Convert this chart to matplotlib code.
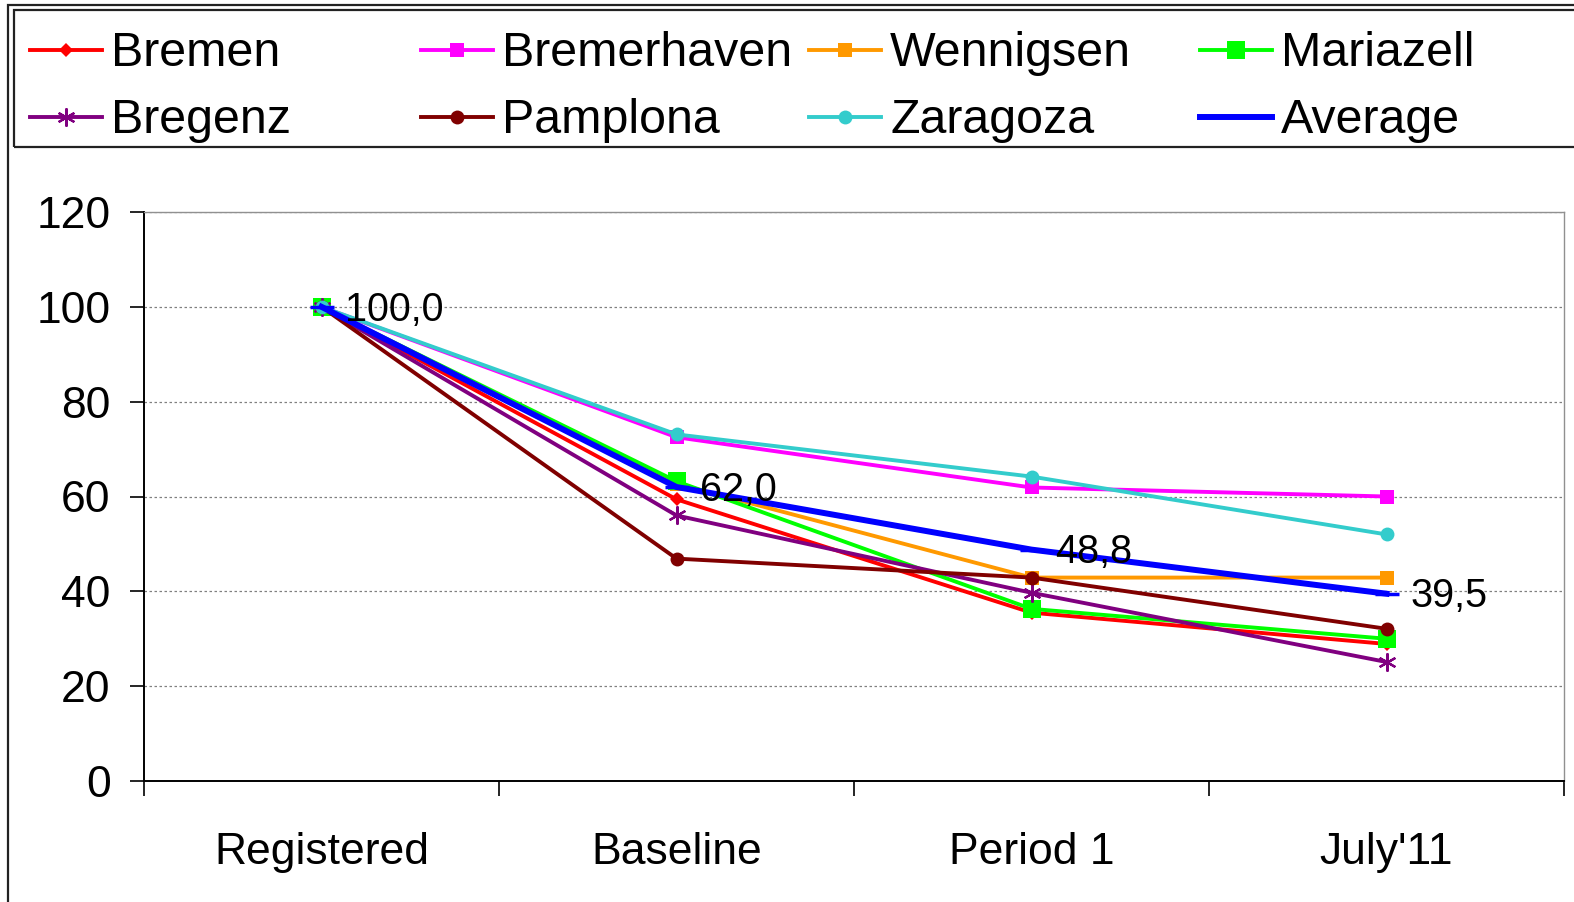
import matplotlib
matplotlib.use('Agg')
import matplotlib.pyplot as plt
from matplotlib.lines import Line2D
from matplotlib.patches import Rectangle

plt.rcParams['font.family'] = ['Liberation Sans', 'DejaVu Sans']

# %% Data

categories = ['Registered', 'Baseline', 'Period 1', "July'11"]

bremen = [100, 59.4, 35.5, 28.9]
bremerhaven = [100, 72.5, 61.9, 60.0]
wennigsen = [100, 62.7, 42.9, 42.9]
mariazell = [100, 63.2, 36.3, 30.0]
bregenz = [100, 56.0, 39.7, 25.1]
pamplona = [100, 46.9, 42.9, 32.1]
zaragoza = [100, 73.1, 64.2, 52.0]
average = [100.0, 62.0, 48.8, 39.5]
average_labels = ['100,0', '62,0', '48,8', '39,5']

# %% Styles (name, values, color, marker, markersize)

series = [
    ('Bremen', bremen, '#FF0000', 'D', 7.5),
    ('Bremerhaven', bremerhaven, '#FF00FF', 's', 9.5),
    ('Wennigsen', wennigsen, '#FF9900', 's', 9.5),
    ('Mariazell', mariazell, '#00FF00', 's', 13),
    ('Bregenz', bregenz, '#800080', (6, 2, 0), 13),
    ('Pamplona', pamplona, '#800000', 'o', 10),
    ('Zaragoza', zaragoza, '#33CCCC', 'o', 10),
]

W, H = 1574, 902
fig = plt.figure(figsize=(W/100, H/100), dpi=100)
ax = fig.add_axes([144/W, 1 - 781/H, (1564 - 144)/W, (781 - 212)/H])

x = list(range(len(categories)))
handles = {}
for name, vals, col, mk, ms in series:
    mew = 1.6 if isinstance(mk, tuple) else 0
    ln, = ax.plot(x, vals, color=col, lw=2.8, marker=mk, ms=ms,
                  markerfacecolor=col, markeredgecolor=col, mew=mew,
                  label=name, clip_on=False, zorder=3)
    handles[name] = ln

avg_ln, = ax.plot(x, average, color='#0000FF', lw=4.3, marker='_', ms=17,
                  mew=2.5, label='Average', clip_on=False, zorder=4)
handles['Average'] = avg_ln

for xi, yi, lab in zip(x, average, average_labels):
    ax.annotate(lab, (xi, yi), xytext=(17, -2), textcoords='offset points',
                ha='left', va='center', fontsize=28.5, zorder=5)

# %% Axes

ax.set_xlim(-0.5, 3.5)
ax.set_ylim(0, 120)
ax.set_yticks(range(0, 121, 20))
ax.set_xticks(x)
ax.set_xticklabels(categories)
ax.set_xticks([-0.5, 0.5, 1.5, 2.5, 3.5], minor=True)
ax.tick_params(axis='x', which='major', length=0, pad=37, labelsize=32)
ax.tick_params(axis='x', which='minor', length=11, width=1.2, direction='out')
ax.tick_params(axis='y', length=10, width=1.2, pad=14, labelsize=32)

ax.grid(axis='y', color='#808080', linestyle=(0, (2, 2)), lw=0.9)
ax.set_axisbelow(True)
for side in ['top', 'right']:
    ax.spines[side].set_color('#909090')
    ax.spines[side].set_linewidth(1.0)
for side in ['left', 'bottom']:
    ax.spines[side].set_color('black')
    ax.spines[side].set_linewidth(1.4)

# %% Chart frame and legend box

fig.patches.append(Rectangle((8/W, -0.05), 1.1, 1.05 - 5/H, transform=fig.transFigure,
                             fill=False, edgecolor='#222222', lw=1.6))
fig.patches.append(Rectangle((14/W, 1 - 147/H), 1.1, (147 - 10)/H, transform=fig.transFigure,
                             fill=False, edgecolor='#222222', lw=1.6))

legend_order = [['Bremen', 'Bregenz'], ['Bremerhaven', 'Pamplona'],
                ['Wennigsen', 'Zaragoza'], ['Mariazell', 'Average']]
col_x = [30, 421, 809, 1200]
row_y = [50, 117]
for cx, names in zip(col_x, legend_order):
    for ry, name in zip(row_y, names):
        src = handles[name]
        fy = 1 - ry/H
        hl = Line2D([cx/W, (cx + 72)/W], [fy, fy], transform=fig.transFigure,
                    color=src.get_color(), lw=src.get_linewidth())
        fig.lines.append(hl)
        if name != 'Average':
            mk = Line2D([(cx + 36)/W], [fy], transform=fig.transFigure,
                        marker=src.get_marker(), ms=src.get_markersize(),
                        color=src.get_color(), mew=src.get_markeredgewidth(), lw=0)
            fig.lines.append(mk)
        fig.text((cx + 81)/W, 1 - (ry + 16)/H, name, fontsize=34.8,
                 ha='left', va='baseline')

fig.savefig('out.png', dpi=100)
